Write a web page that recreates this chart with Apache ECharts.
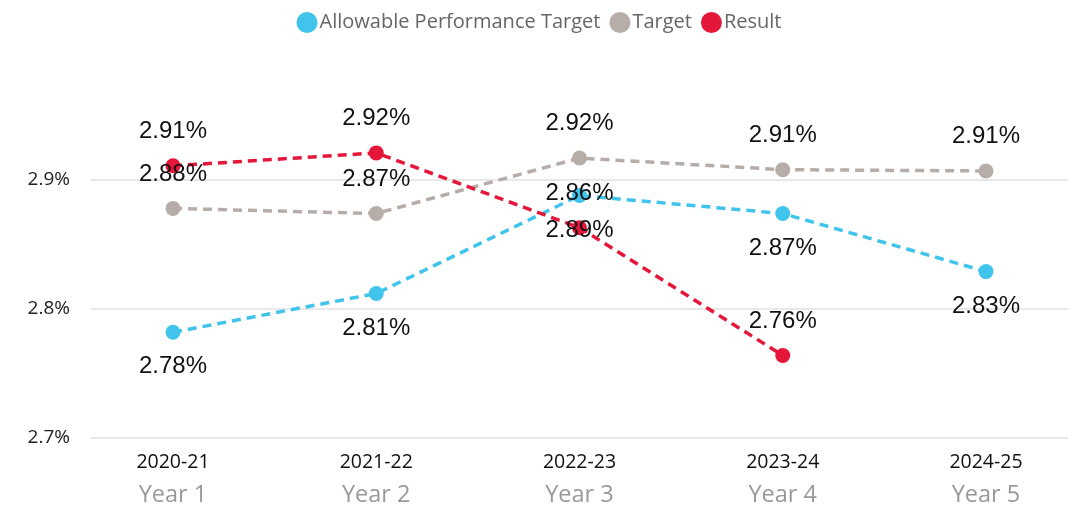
<!DOCTYPE html>
<html>
<head>
<meta charset="utf-8">
<script src="https://cdn.jsdelivr.net/npm/echarts@6/dist/echarts.min.js"></script>
<style>
  html, body { margin: 0; padding: 0; background: #fff; }
  #chart { width: 1078px; height: 508px; }
</style>
</head>
<body>
<div id="chart"></div>
<script>
// data
const seasons = ['2020-21', '2021-22', '2022-23', '2023-24', '2024-25']
const yearNames = ['Year 1', 'Year 2', 'Year 3', 'Year 4', 'Year 5']
const allowable = [2.782, 2.812, 2.888, 2.874, 2.829]
const target = [2.878, 2.874, 2.917, 2.908, 2.907]
const result = [2.911, 2.921, 2.863, 2.764, null]
const yTicks = [2.7, 2.8, 2.9]

const labelFont = 'Liberation Sans, Arial, sans-serif'
const uiFont = 'Open Sans, Noto Sans, sans-serif'

function pct(p) {
  return p.value == null ? '' : p.value.toFixed(2) + '%'
}

function lineSeries(name, color, data, pos) {
  return {
    name: name,
    type: 'line',
    xAxisIndex: 0,
    yAxisIndex: 0,
    data: data,
    color: color,
    symbol: 'circle',
    symbolSize: 15,
    connectNulls: false,
    lineStyle: { width: 3.5, type: [9, 6], color: color },
    itemStyle: { color: color },
    label: {
      show: true,
      position: pos,
      distance: 15,
      formatter: pct,
      fontFamily: labelFont,
      fontSize: 24,
      color: '#111'
    },
    emphasis: { disabled: true }
  }
}

const chart = echarts.init(document.getElementById('chart'))

const option = {
  animation: false,
  backgroundColor: '#fff',
  legend: {
    top: 7,
    left: 'center',
    icon: 'circle',
    itemWidth: 21,
    itemHeight: 21,
    itemGap: 9,
    textStyle: { fontFamily: uiFont, fontSize: 20, color: '#666', padding: [0, 0, 0, -3] },
    data: ['Allowable Performance Target', 'Target', 'Result']
  },
  grid: [
    // grid for the marks, edges at first / last category
    { left: 173, right: 92, top: 51, bottom: 70 },
    // grid only for y labels and gridlines
    { left: 91, right: 10, top: 51, bottom: 70 }
  ],
  xAxis: [
    {
      gridIndex: 0,
      type: 'category',
      boundaryGap: false,
      data: seasons,
      axisLine: { show: false },
      axisTick: { show: false },
      splitLine: { show: false },
      axisLabel: {
        margin: 12,
        formatter: function (v, i) {
          return '{a|' + v + '}\n{b|' + yearNames[i] + '}'
        },
        rich: {
          a: { fontFamily: uiFont, fontSize: 19.5, color: '#111', lineHeight: 24 },
          b: { fontFamily: uiFont, fontSize: 23.5, color: '#999', lineHeight: 42 }
        }
      }
    },
    {
      gridIndex: 1,
      type: 'value',
      show: false
    }
  ],
  yAxis: [
    {
      gridIndex: 0,
      type: 'value',
      min: 2.7,
      max: 3.0,
      show: false
    },
    {
      gridIndex: 1,
      type: 'value',
      min: 2.7,
      max: 3.0,
      interval: 0.1,
      axisLine: { show: false },
      axisTick: { show: false },
      axisLabel: {
        margin: 21,
        showMaxLabel: false,
        fontFamily: uiFont,
        fontSize: 19,
        color: '#222',
        formatter: function (v) {
          return yTicks.some(t => Math.abs(t - v) < 1e-6) ? v.toFixed(1) + '%' : ''
        }
      },
      splitLine: {
        showMaxLine: false,
        lineStyle: { color: '#e8e8e8', width: 2 }
      }
    }
  ],
  series: [
    lineSeries('Allowable Performance Target', '#41C4EC', allowable, 'bottom'),
    lineSeries('Target', '#B7ADA8', target, 'top'),
    lineSeries('Result', '#E4173A', result, 'top')
  ]
}

chart.setOption(option)
</script>
</body>
</html>
